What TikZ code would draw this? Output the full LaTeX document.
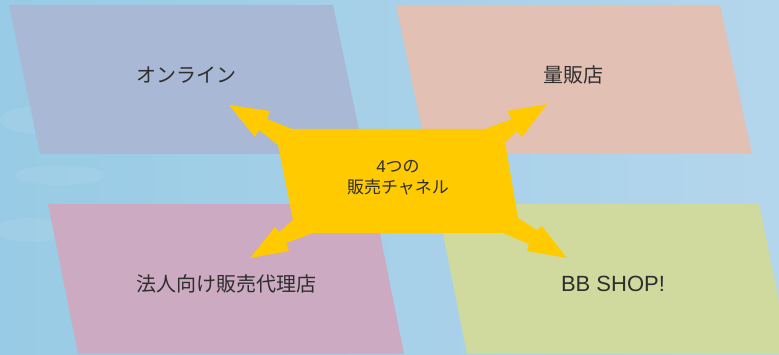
\documentclass[tikz,border=0pt]{standalone}
\usepackage{fontspec}
\setmainfont{Noto Sans CJK JP}
\newfontfamily\latinfont{Liberation Sans}
\definecolor{bgL}{HTML}{98CBE5}
\definecolor{bgR}{HTML}{B4D6EC}
\definecolor{cOnline}{HTML}{A9B8D4}
\definecolor{cShop}{HTML}{E2C0B4}
\definecolor{cCorp}{HTML}{CBAAC2}
\definecolor{cBB}{HTML}{D0DA9F}
\definecolor{cYel}{HTML}{FFCB00}
\definecolor{txt}{HTML}{2E2E2E}
\tikzset{
  para/.style={draw=none},
  lbl/.style={text=txt, font=\fontsize{20}{24}\selectfont, inner sep=0pt},
  clbl/.style={text=txt, font=\fontsize{17}{21}\selectfont, align=center, inner sep=0pt},
}
\begin{document}
\begin{tikzpicture}[x=1pt,y=-1pt]
\useasboundingbox (0,0) rectangle (779,355);
\shade[left color=bgL, right color=bgR] (0,0) rectangle (779,355);
\fill[white, opacity=0.07] (40,120) ellipse (40 and 14);
\fill[white, opacity=0.07] (30,230) ellipse (35 and 12);
\fill[white, opacity=0.06] (60,175) ellipse (45 and 10);
% parallelograms
\fill[para, cOnline] (9,5) -- (333,5) -- (364,154) -- (40,154) -- cycle;
\fill[para, cShop] (396,5) -- (720,5) -- (752,154) -- (427,154) -- cycle;
\fill[para, cCorp] (48,204) -- (374,204) -- (404,354) -- (78,354) -- cycle;
\fill[para, cBB] (437,204) -- (759,204) -- (790,354) -- (467,354) -- cycle;
% central four-way arrow shape
\fill[cYel] (229,105) -- (270,111) -- (267,119) -- (292,129)
  -- (485,129) -- (512,119) -- (507,111) -- (547,104) -- (522,137) -- (517,131) -- (505,142)
  -- (518,218) -- (537,230) -- (542,226) -- (567,258) -- (527,251) -- (529,244) -- (503,233)
  -- (313,233) -- (286,243) -- (289,251) -- (250,258) -- (275,227) -- (279,232) -- (293,220)
  -- (278,145) -- (259,130) -- (255,137) -- cycle;
% labels
\node[lbl] (online) at (186,75) {オンライン};
\node[lbl] (mass) at (573,75) {量販店};
\node[lbl] (corp) at (226,284) {法人向け販売代理店};
\node[lbl, font=\latinfont\fontsize{22}{26}\selectfont] (bb) at (613,284) {BB SHOP!};
\node[clbl] (center) at (398,178) {{\latinfont 4}つの\\販売チャネル};
\end{tikzpicture}
\end{document}
